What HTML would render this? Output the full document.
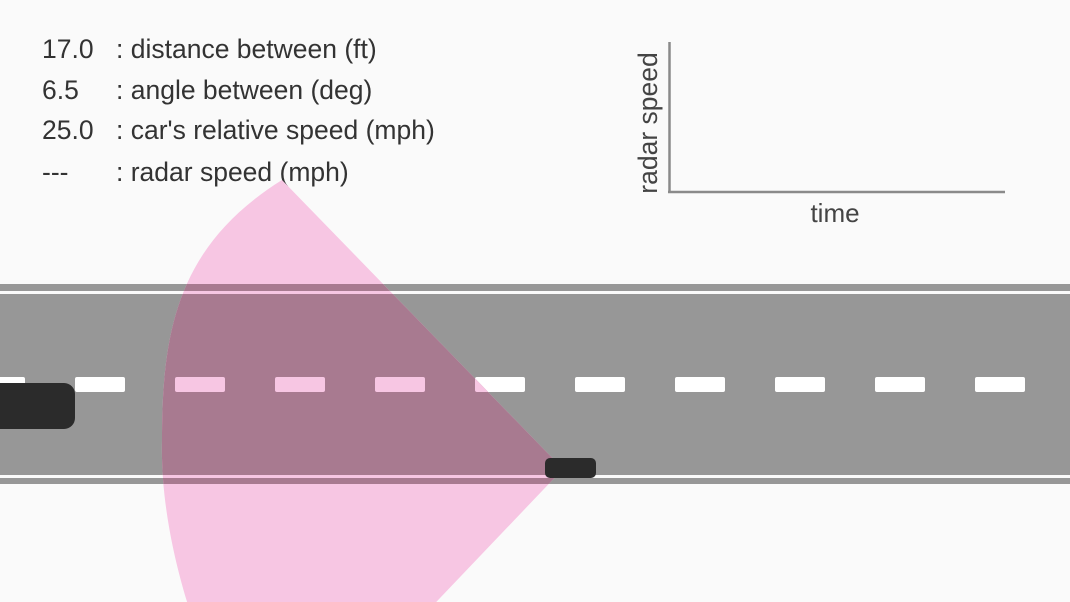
<!DOCTYPE html>
<html><head><meta charset="utf-8"><style>
html,body{margin:0;padding:0;background:#fafafa;overflow:hidden;width:1070px;height:602px;}
svg{display:block;font-family:"Liberation Sans",sans-serif;}
</style></head><body>
<svg id="scene" width="1070" height="602" viewBox="0 0 1070 602">
<rect x="0" y="0" width="1070" height="602" fill="#fafafa"/>
<defs>
<clipPath id="coneClip"><path id="coneShape" d="M282,180 L563,469 L400,640 L200,640 C185,600 160,520 162,440 C162,330 178,245 282,180 Z"/></clipPath>
</defs>
<g font-size="26.5" fill="#333">
<text x="42" y="58">17.0</text>
<text x="116" y="58">: distance between (ft)</text>
<text x="42" y="99">6.5</text>
<text x="116" y="99">: angle between (deg)</text>
<text x="42" y="139">25.0</text>
<text x="116" y="139">: car's relative speed (mph)</text>
<text x="42" y="181">---</text>
<text x="116" y="181">: radar speed (mph)</text>
</g>
<g id="chart">
<line x1="669.5" y1="42" x2="669.5" y2="193" stroke="#8a8a8a" stroke-width="2.5"/>
<line x1="668" y1="192" x2="1005" y2="192" stroke="#8a8a8a" stroke-width="2.5"/>
<text x="657" y="123" transform="rotate(-90 657 123)" text-anchor="middle" font-size="26.5" fill="#444">radar speed</text>
<text x="835" y="222" text-anchor="middle" font-size="26" fill="#444">time</text>
<g id="series"></g>
</g>
<g>
<rect x="0" y="284" width="1070" height="7" fill="#979797"/>
<rect x="0" y="294" width="1070" height="181" fill="#979797"/>
<rect x="0" y="478" width="1070" height="6" fill="#979797"/>
<g id="dashes"></g>
</g>
<g>
<use href="#coneShape" fill="#f7c6e3"/>
<g clip-path="url(#coneClip)">
<rect x="0" y="284" width="1070" height="7" fill="#a87a90"/>
<rect x="0" y="294" width="1070" height="181" fill="#a87a90"/>
<rect x="0" y="478" width="1070" height="6" fill="#a87a90"/>
<g id="dashesPink"></g>
</g>
</g>
<rect x="-20" y="383" width="95" height="46" rx="11" fill="#2b2b2b"/>
<rect x="545" y="458" width="51" height="20" rx="5" fill="#2b2b2b"/>
</svg>
<script>
// chart data (no radar readings yet)
const times = [];
const radarSpeeds = [];
const ns = 'http://www.w3.org/2000/svg';
function xScale(t){ return 669 + t * 3; }
function yScale(v){ return 192 - v * 3; }
const series = document.getElementById('series');
if (times.length > 1) {
  const pl = document.createElementNS(ns, 'polyline');
  pl.setAttribute('points', times.map((t,i)=>xScale(t)+','+yScale(radarSpeeds[i])).join(' '));
  pl.setAttribute('fill','none'); pl.setAttribute('stroke','#d33');
  
  
  series.appendChild(pl);
}
const dg = document.getElementById('dashes');
const dp = document.getElementById('dashesPink');
for (let x = -25; x < 1070; x += 100) {
  [[dg,'#ffffff'],[dp,'#f7c6e3']].forEach(([g,c])=>{
    const r = document.createElementNS(ns, 'rect');
    r.setAttribute('x', x); r.setAttribute('y', 377);
    r.setAttribute('width', 50); r.setAttribute('height', 15);
    r.setAttribute('rx', 2); r.setAttribute('fill', c);
    
    
    g.appendChild(r);
  });
}
</script>
</body></html>
